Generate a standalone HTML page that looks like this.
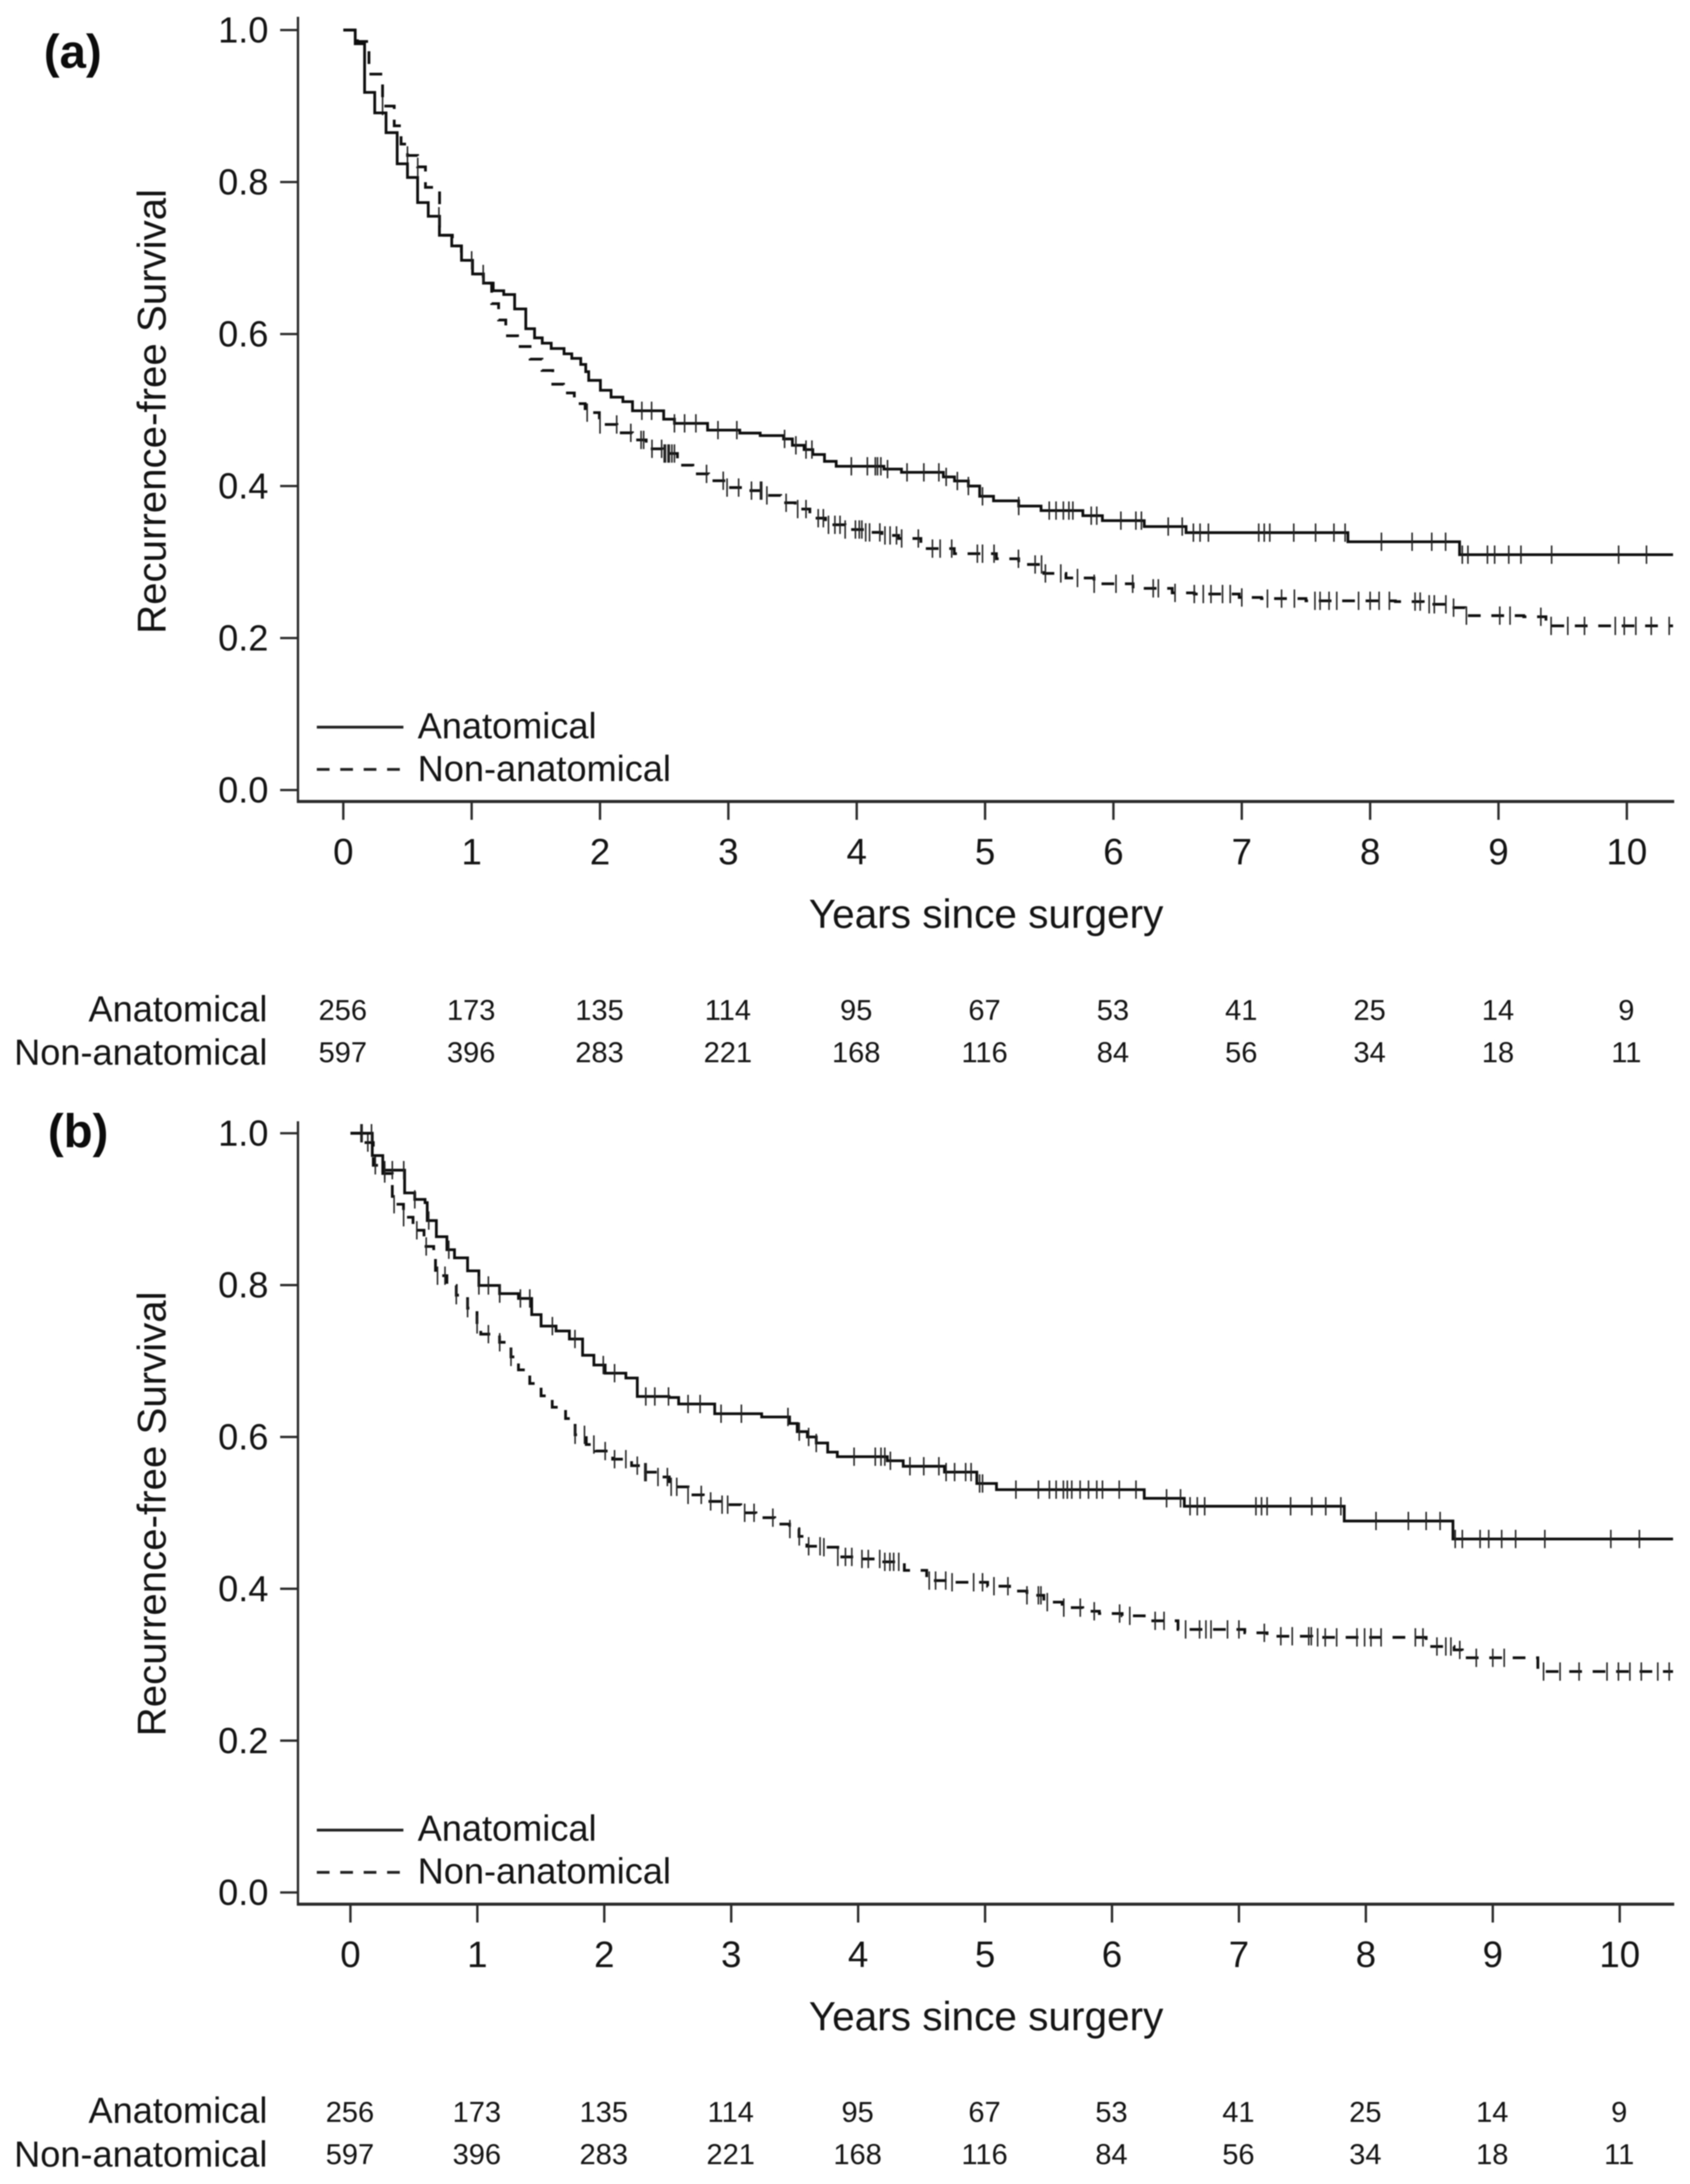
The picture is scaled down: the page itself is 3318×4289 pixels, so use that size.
<!DOCTYPE html>
<html lang="en">
<head>
<meta charset="utf-8">
<title>Recurrence-free survival, anatomical vs non-anatomical</title>
<style>
html,body{margin:0;padding:0;background:#fff;width:3318px;height:4289px;overflow:hidden}
svg{display:block;filter:blur(1.1px)}
text{font-family:"Liberation Sans",sans-serif;fill:#141414}
.bold{font-weight:700;fill:#0c0c0c}
</style>
</head>
<body>
<svg id="chart" xmlns="http://www.w3.org/2000/svg" width="3318" height="4289" viewBox="0 0 3318 4289">
  <rect x="0" y="0" width="3318" height="4289" fill="#fff"/>

  <g id="panel-a">
    <text class="bold" x="86" y="133" font-size="93">(a)</text>
    <text font-size="79" text-anchor="middle" transform="translate(325 808) rotate(-90)">Recurrence-free Survival</text>
    <text font-size="79.6" text-anchor="middle" x="1936" y="1822">Years since surgery</text>
    <line x1="622" x2="792" y1="1428" y2="1428" stroke="#222" stroke-width="5.4"/>
    <text font-size="71" x="820" y="1450">Anatomical</text>
    <line x1="622" x2="785" y1="1511" y2="1511" stroke="#222" stroke-width="5.4" stroke-dasharray="25 21"/>
    <text font-size="71" x="820" y="1534">Non-anatomical</text>
    <text font-size="71" text-anchor="end" x="525" y="2006">Anatomical</text>
    <text font-size="71" text-anchor="end" x="525" y="2091">Non-anatomical</text>
  </g>

  <g id="panel-b">
    <text class="bold" x="94" y="2253" font-size="93">(b)</text>
    <text font-size="79" text-anchor="middle" transform="translate(325 2973) rotate(-90)">Recurrence-free Survival</text>
    <text font-size="79.6" text-anchor="middle" x="1936" y="3987">Years since surgery</text>
    <line x1="622" x2="792" y1="3594" y2="3594" stroke="#222" stroke-width="5.4"/>
    <text font-size="71" x="820" y="3615">Anatomical</text>
    <line x1="622" x2="785" y1="3677" y2="3677" stroke="#222" stroke-width="5.4" stroke-dasharray="25 21"/>
    <text font-size="71" x="820" y="3699">Non-anatomical</text>
    <text font-size="71" text-anchor="end" x="525" y="4169">Anatomical</text>
    <text font-size="71" text-anchor="end" x="525" y="4255">Non-anatomical</text>
  </g>
</svg>

<script>
const yearTicks = [0,1,2,3,4,5,6,7,8,9,10];
const survivalTicks = [0,0.2,0.4,0.6,0.8,1];
const survivalTickLabels = ['0.0','0.2','0.4','0.6','0.8','1.0'];
const riskAnatomical = [256,173,135,114,95,67,53,41,25,14,9];
const riskNonAnatomical = [597,396,283,221,168,116,84,56,34,18,11];

const aAnatTimes = [0,.093,.166,.245,.333,.42,.5,.579,.662,.749,.845,.921,1.007,1.092,1.168,1.25,1.335,1.422,1.49,1.55,1.62,1.72,1.78,1.85,1.889,1.912,2.003,2.086,2.178,2.253,2.496,2.58,2.838,3.089,3.248,3.43,3.499,3.59,3.658,3.749,3.84,4.212,4.349,4.675,4.762,4.87,4.958,5.066,5.262,5.436,5.762,5.914,6.24,6.566,7.827,8.697];
const aAnatSurvival = [1,.982,.918,.891,.865,.824,.806,.773,.755,.73,.716,.697,.679,.667,.657,.652,.633,.607,.595,.588,.581,.574,.568,.56,.5505,.539,.526,.517,.511,.499,.488,.4825,.4736,.4697,.4664,.462,.4536,.448,.4415,.4325,.426,.4223,.418,.412,.4066,.4,.3865,.3805,.3737,.3677,.361,.3545,.3467,.3387,.3267,.3097];
const aAnatCensored = [.745,1.0,1.09,2.326,2.402,2.58,2.659,2.747,2.919,3.066,3.438,3.526,3.605,3.651,3.958,4.083,4.145,4.162,4.188,4.24,4.392,4.523,4.64,4.697,4.784,4.87,4.98,5.262,5.5,5.553,5.61,5.653,5.684,5.827,5.87,6.058,6.175,6.218,6.427,6.536,6.623,6.675,6.74,7.132,7.175,7.218,7.405,7.575,7.718,7.805,8.088,8.327,8.48,8.588,8.718,8.762,8.914,8.97,9.08,9.175,9.414,9.936,10.153];

const aNonTimes = [0,.11,.2,.306,.397,.45,.5,.579,.64,.75,.85,.92,1.007,1.09,1.156,1.21,1.266,1.358,1.455,1.548,1.632,1.716,1.8,1.884,1.995,2.132,2.253,2.36,2.489,2.603,2.724,2.846,2.982,3.134,3.271,3.408,3.521,3.635,3.757,3.909,4.045,4.197,4.327,4.5,4.76,5.088,5.262,5.458,5.63,5.849,6.153,6.458,6.63,6.98,7.153,7.5,8.197,8.414,8.61,8.74,9.197,9.37];
const aNonSurvival = [1,.985,.942,.9,.874,.85,.835,.82,.793,.73,.716,.697,.679,.667,.64,.6185,.5977,.5836,.567,.552,.534,.5225,.5084,.4966,.481,.47,.4607,.449,.4428,.4274,.416,.407,.398,.394,.3877,.378,.3697,.3577,.349,.3428,.339,.335,.331,.3177,.311,.3043,.2968,.285,.279,.2714,.2654,.2594,.2579,.2534,.2519,.249,.248,.2444,.24,.2295,.228,.216];
const aNonCensored = [.306,.5,.58,1.9,2.0,2.13,2.24,2.32,2.34,2.405,2.48,2.5,2.51,2.53,2.54,2.56,2.58,2.83,2.96,2.99,3.08,3.18,3.25,3.26,3.3,3.45,3.54,3.605,3.7,3.74,3.78,3.83,3.87,3.91,3.99,4.02,4.04,4.07,4.1,4.18,4.22,4.26,4.31,4.35,4.48,4.59,4.65,4.74,4.94,4.98,5.07,5.26,5.39,5.44,5.47,5.59,5.72,5.85,6.02,6.15,6.31,6.35,6.48,6.63,6.7,6.76,6.85,6.91,7.0,7.2,7.31,7.41,7.57,7.61,7.68,7.74,7.91,8.0,8.07,8.15,8.35,8.39,8.46,8.5,8.59,8.65,8.75,9.01,9.09,9.33,9.41,9.54,9.67,9.91,9.98,10.07,10.19,10.33];

const bAnatTimes = [0,.172,.255,.427,.507,.588,.605,.677,.76,.82,.923,1.012,1.175,1.324,1.428,1.502,1.62,1.725,1.829,1.918,2.007,2.17,2.26,2.51,2.586,2.87,3.24,3.46,3.52,3.6,3.67,3.76,3.836,4.23,4.355,4.68,4.935,5.09,6.254,6.57,7.83,8.686];
const bAnatSurvival = [1,.9706,.9514,.9214,.9129,.9086,.885,.8637,.8466,.8359,.8188,.7995,.7888,.7824,.7611,.746,.7396,.729,.7076,.6947,.684,.6776,.6533,.652,.6434,.6306,.6263,.6178,.607,.6,.592,.58,.574,.5686,.5614,.5537,.5387,.5306,.5192,.5087,.4893,.4656];
const bAnatCensored = [.092,.166,.27,.33,.42,.507,.617,.775,1.012,1.087,1.176,1.339,1.413,1.591,1.769,1.992,2.081,2.327,2.398,2.506,2.66,2.755,2.92,3.08,3.447,3.536,3.61,3.67,3.968,4.135,4.18,4.21,4.254,4.408,4.517,4.636,4.693,4.76,4.847,4.89,4.957,4.98,5.243,5.42,5.507,5.56,5.617,5.648,5.683,5.749,5.815,5.88,5.925,6.057,6.189,6.43,6.54,6.615,6.672,6.73,7.134,7.178,7.222,7.407,7.574,7.684,7.803,8.08,8.335,8.475,8.585,8.704,8.76,8.9,8.968,9.07,9.18,9.41,9.93,10.155];

const bNonTimes = [0,.106,.18,.255,.33,.418,.493,.58,.656,.67,.76,.834,.923,.997,1.027,1.175,1.265,1.324,1.413,1.502,1.59,1.695,1.77,1.858,1.933,2.066,2.215,2.304,2.423,2.512,2.66,2.78,2.927,3.076,3.195,3.343,3.46,3.534,3.596,3.72,3.84,3.968,4.188,4.364,4.54,4.717,5.02,5.193,5.33,5.463,5.607,5.77,5.9,6.08,6.254,6.52,7.046,7.222,7.574,8.475,8.695,8.76,9.355];
const bNonSurvival = [1,.9877,.9578,.947,.9065,.8894,.8722,.8509,.838,.8124,.7995,.7867,.7696,.7482,.7354,.7247,.7054,.6883,.6704,.6541,.6391,.6242,.6028,.59,.5814,.5707,.5622,.5536,.5472,.5343,.5237,.5151,.5108,.5001,.4937,.4852,.4787,.469,.456,.4548,.442,.4393,.4355,.4243,.4108,.4086,.4034,.397,.3914,.3824,.3752,.3704,.3674,.3644,.3578,.3465,.342,.3375,.336,.324,.3195,.3091,.291];
const bNonCensored = [.083,.137,.196,.27,.344,.419,.523,.597,.686,.745,.834,.923,.998,1.087,1.176,1.265,1.77,1.844,1.918,2.007,2.081,2.17,2.26,2.319,2.33,2.423,2.497,2.527,2.571,2.66,2.764,2.838,2.928,2.972,3.106,3.18,3.328,3.462,3.536,3.61,3.7,3.73,3.84,3.9,3.95,4.03,4.08,4.17,4.21,4.25,4.28,4.32,4.56,4.61,4.69,4.74,4.91,4.98,5.07,5.18,5.33,5.42,5.44,5.49,5.62,5.75,5.86,6.06,6.14,6.34,6.41,6.58,6.69,6.74,6.78,6.91,7.0,7.2,7.33,7.42,7.55,7.57,7.62,7.68,7.77,7.93,7.99,8.04,8.12,8.39,8.45,8.56,8.63,8.67,8.74,8.87,9.0,9.09,9.4,9.53,9.68,9.9,9.99,10.08,10.17,10.3,10.39];

const SVGNS = 'http://www.w3.org/2000/svg';

function survivalAt(times, values, t){
  let s = values[0];
  for (let i = 0; i < times.length; i++) { if (times[i] <= t) s = values[i]; }
  return s;
}

function makeLine(x1, y1, x2, y2, stroke, width){
  const el = document.createElementNS(SVGNS, 'line');
  el.setAttribute('x1', x1); el.setAttribute('y1', y1);
  el.setAttribute('x2', x2); el.setAttribute('y2', y2);
  el.setAttribute('stroke', stroke); el.setAttribute('stroke-width', width);
  return el;
}

function makeText(x, y, size, anchor, content){
  const el = document.createElementNS(SVGNS, 'text');
  el.setAttribute('x', x); el.setAttribute('y', y);
  el.setAttribute('font-size', size); el.setAttribute('text-anchor', anchor);
  el.textContent = content;
  return el;
}

function drawSeries(group, times, values, censored, xScale, yScale, endYear, dashed){
  let d = 'M' + xScale(times[0]).toFixed(1) + ' ' + yScale(values[0]).toFixed(1);
  const n = Math.min(times.length, values.length);
  for (let i = 1; i < n; i++) {
    d += 'H' + xScale(times[i]).toFixed(1) + 'V' + yScale(values[i]).toFixed(1);
  }
  d += 'H' + xScale(endYear).toFixed(1);
  const path = document.createElementNS(SVGNS, 'path');
  path.setAttribute('d', d);
  path.setAttribute('fill', 'none');
  path.setAttribute('stroke', '#0e0e0e');
  path.setAttribute('stroke-width', '5.4');
  path.setAttribute('stroke-linejoin', 'miter');
  if (dashed) path.setAttribute('stroke-dasharray', '25 21');
  
  
  group.appendChild(path);
  censored.forEach(function(t){
    const x = xScale(t);
    const y = yScale(survivalAt(times, values, t));
    const mark = makeLine(x, y - 18, x, y + 18, '#222', 3);
    
    
    group.appendChild(mark);
  });
}

function drawPanel(cfg){
  const group = document.getElementById(cfg.id);
  const xScale = function(t){ return cfg.x0 + t * cfg.xStep; };
  const yScale = function(s){ return cfg.y0 - s * cfg.yStep; };

  const yAxis = makeLine(585, cfg.yAxisTop, 585, cfg.axisY + 2.5, '#2a2a2a', 4.6);
  
  
  group.appendChild(yAxis);

  const xAxis = makeLine(583, cfg.axisY, 3287, cfg.axisY, '#2a2a2a', 6);
  
  
  group.appendChild(xAxis);

  survivalTicks.forEach(function(v, i){
    const y = yScale(v);
    const tick = makeLine(550, y, 585, y, '#2a2a2a', 4.6);
    
    
    group.appendChild(tick);
    const label = makeText(527, y + 24.5, 71, 'end', survivalTickLabels[i]);
    
    
    group.appendChild(label);
  });

  yearTicks.forEach(function(t, i){
    const x = xScale(t);
    const tick = makeLine(x, cfg.axisY, x, cfg.axisY + 36, '#2a2a2a', 4.6);
    
    
    group.appendChild(tick);
    const label = makeText(x, cfg.axisY + 123.5, 72, 'middle', String(t));
    
    
    group.appendChild(label);
    const r1 = makeText(x - 1, cfg.risk1, 57, 'middle', String(riskAnatomical[i]));
    
    
    group.appendChild(r1);
    const r2 = makeText(x - 1, cfg.risk2, 57, 'middle', String(riskNonAnatomical[i]));
    
    
    group.appendChild(r2);
  });

  drawSeries(group, cfg.nonT, cfg.nonS, cfg.nonC, xScale, yScale, cfg.endYear, true);
  drawSeries(group, cfg.anatT, cfg.anatS, cfg.anatC, xScale, yScale, cfg.endYear, false);
}

drawPanel({id:'panel-a', x0:674, xStep:252, y0:1551.5, yStep:1492.5, axisY:1574, yAxisTop:33, risk1:2003, risk2:2086, endYear:10.36,
  anatT:aAnatTimes, anatS:aAnatSurvival, anatC:aAnatCensored, nonT:aNonTimes, nonS:aNonSurvival, nonC:aNonCensored});
drawPanel({id:'panel-b', x0:688, xStep:249.2, y0:3716.5, yStep:1491, axisY:3739.5, yAxisTop:2202, risk1:4167, risk2:4250, endYear:10.42,
  anatT:bAnatTimes, anatS:bAnatSurvival, anatC:bAnatCensored, nonT:bNonTimes, nonS:bNonSurvival, nonC:bNonCensored});
</script>
</body>
</html>
